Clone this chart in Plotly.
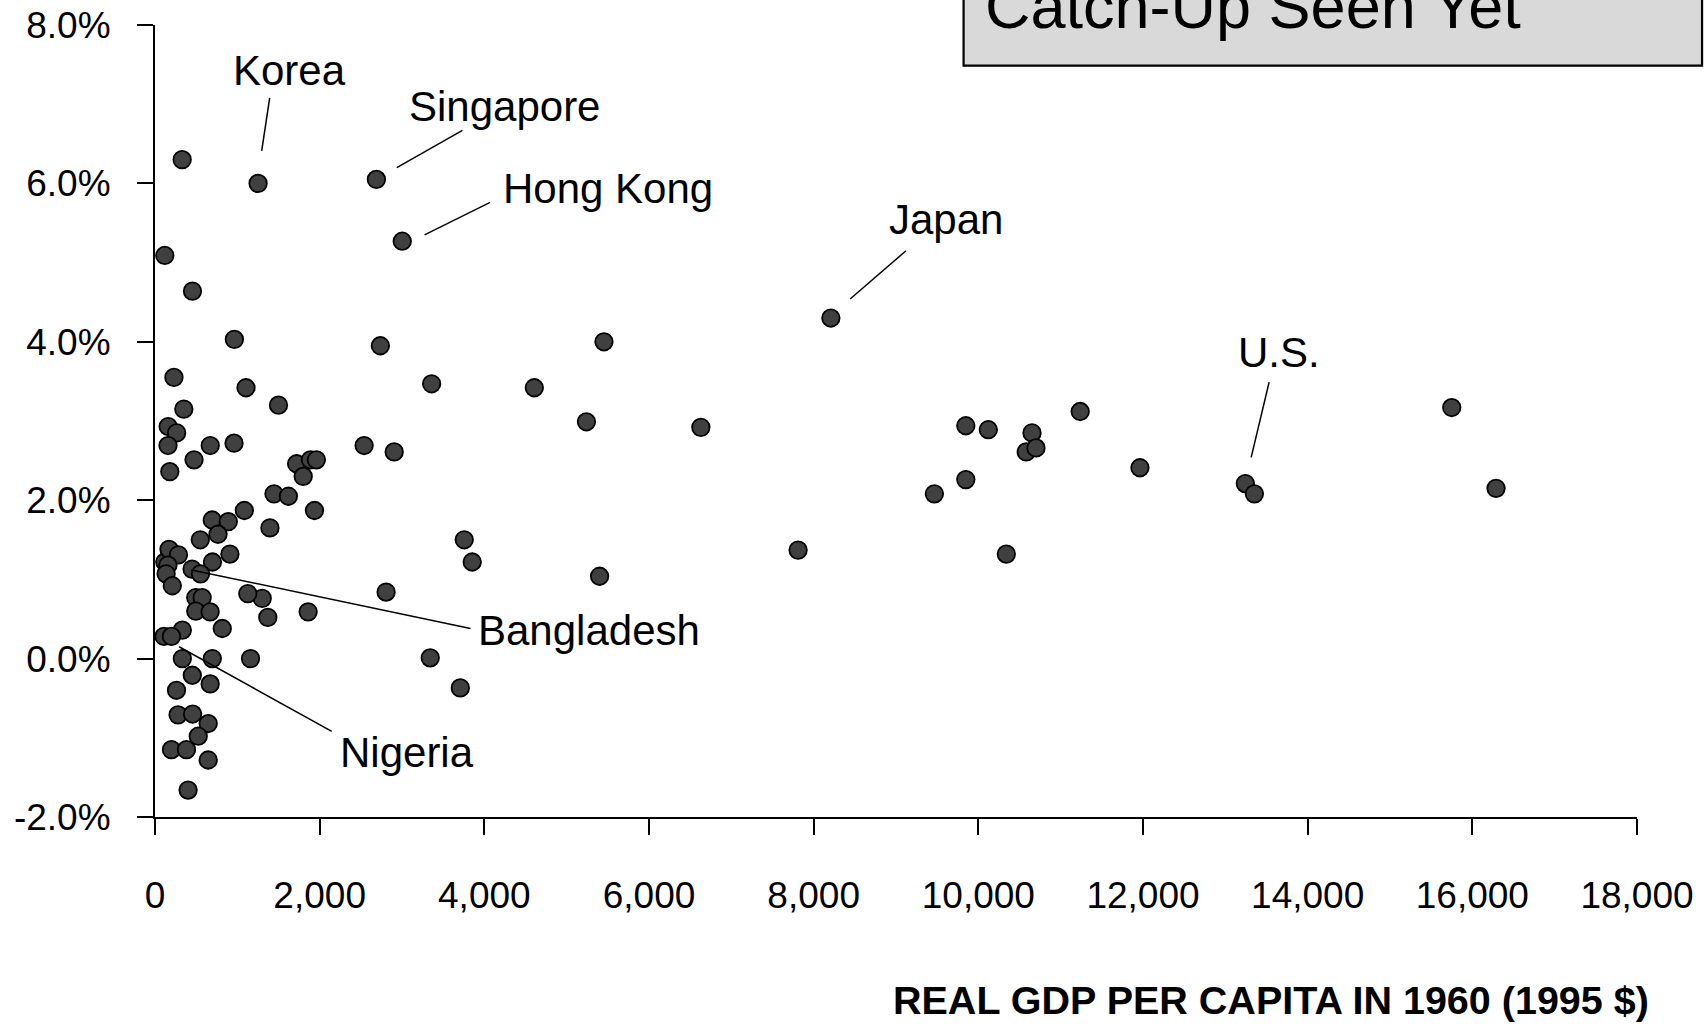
import plotly.graph_objects as go

# Real GDP per capita in 1960 (1995 dollars) and average annual growth rate (%)
gdp_1960 = [
    330, 1252, 2689, 3003, 119, 455, 964, 2737, 5453, 8209,
    230, 1105, 3360, 4607, 1500, 350, 5240, 6630, 9848, 10121,
    10652, 10582, 10700, 11237, 11963, 13243, 13353, 15750, 16288, 9848,
    9466, 10340, 7811, 5400, 3756, 3853, 2540, 2905, 2807, 3343,
    3708, 1860, 1370, 1302, 1127, 1160, 160, 263, 158, 671,
    960, 474, 180, 1720, 1888, 1960, 1800, 1445, 1620, 1937,
    1085, 1396, 695, 890, 765, 550, 910, 698, 119, 184,
    170, 285, 157, 135, 210, 450, 553, 495, 573, 495,
    670, 817, 332, 110, 200, 332, 696, 453, 670, 261,
    280, 457, 646, 525, 200, 382, 646, 402,
]
growth = [
    6.30, 6.00, 6.05, 5.27, 5.09, 4.64, 4.03, 3.95, 4.00, 4.30,
    3.55, 3.42, 3.47, 3.42, 3.20, 3.15, 2.99, 2.92, 2.94, 2.89,
    2.85, 2.61, 2.66, 3.12, 2.41, 2.21, 2.08, 3.17, 2.15, 2.26,
    2.08, 1.32, 1.37, 1.04, 1.50, 1.22, 2.69, 2.61, 0.84, 0.01,
    -0.37, 0.59, 0.52, 0.76, 0.82, 0.00, 2.93, 2.85, 2.69, 2.69,
    2.72, 2.51, 2.36, 2.46, 2.51, 2.51, 2.30, 2.08, 2.05, 1.87,
    1.87, 1.65, 1.75, 1.73, 1.57, 1.50, 1.32, 1.22, 1.22, 1.36,
    1.38, 1.31, 1.18, 1.07, 0.92, 1.13, 1.07, 0.77, 0.77, 0.60,
    0.59, 0.38, 0.36, 0.28, 0.28, 0.00, 0.00, -0.21, -0.32, -0.40,
    -0.71, -0.70, -0.82, -0.98, -1.15, -1.15, -1.28, -1.66,
]

x_ticks = [0, 2000, 4000, 6000, 8000, 10000, 12000, 14000, 16000, 18000]
x_tick_labels = ["0", "2,000", "4,000", "6,000", "8,000", "10,000",
                 "12,000", "14,000", "16,000", "18,000"]
y_ticks = [-2, 0, 2, 4, 6, 8]
y_tick_labels = ["-2.0%", "0.0%", "2.0%", "4.0%", "6.0%", "8.0%"]

x_title = "REAL GDP PER CAPITA IN 1960 (1995 $)"
box_title = "Catch-Up Seen Yet"

# Country callouts: label anchor (text middle) and leader line ends
callouts = [
    dict(text="Korea", tx=1639, ty=7.42, anchor="center", line=(1393, 7.08, 1296, 6.41)),
    dict(text="Singapore", tx=3060, ty=6.97, anchor="left", line=(3734, 6.67, 2937, 6.20)),
    dict(text="Hong Kong", tx=4200, ty=5.93, anchor="left", line=(4070, 5.76, 3274, 5.35)),
    dict(text="Japan", tx=8885, ty=5.55, anchor="left", line=(9122, 5.15, 8443, 4.54)),
    dict(text="U.S.", tx=13125, ty=3.87, anchor="left", line=(13532, 3.49, 13314, 2.54)),
    dict(text="Bangladesh", tx=3904, ty=0.36, anchor="left", line=(443, 1.12, 3832, 0.38)),
    dict(text="Nigeria", tx=2225, ty=-1.19, anchor="left", line=(293, 0.15, 2147, -0.92)),
]

label_font = "Liberation Sans, Arial, sans-serif"
tick_font = "Liberation Sans Narrow, Arial Narrow, Liberation Sans, Arial, sans-serif"

fig = go.Figure()
fig.add_trace(go.Scatter(
    x=gdp_1960, y=growth, mode="markers",
    marker=dict(symbol="circle", size=17.5, color="#404040",
                line=dict(color="#000000", width=1.8)),
    hoverinfo="skip", showlegend=False,
))

shapes = []
annotations = []
for c in callouts:
    x0, y0, x1, y1 = c["line"]
    shapes.append(dict(type="line", xref="x", yref="y", x0=x0, y0=y0, x1=x1, y1=y1,
                       line=dict(color="#000000", width=1.5)))
    annotations.append(dict(x=c["tx"], y=c["ty"], xref="x", yref="y", text=c["text"],
                            showarrow=False, xanchor=c["anchor"], yanchor="middle",
                            font=dict(family=label_font, size=42, color="#000000")))

# Title box in the upper right, running off the top edge of the page
shapes.append(dict(type="rect", xref="paper", yref="paper",
                   x0=0.5456, x1=1.0439, y0=0.9486, y1=1.08,
                   fillcolor="#d9d9d9", line=dict(color="#000000", width=2.2),
                   layer="above"))
annotations.append(dict(x=0.5587, y=1.0245, xref="paper", yref="paper", text=box_title,
                        showarrow=False, xanchor="left", yanchor="middle",
                        font=dict(family=label_font, size=63, color="#000000")))

# Horizontal axis title
annotations.append(dict(x=1.0094, y=-0.231, xref="paper", yref="paper",
                        text="<b>" + x_title + "</b>", showarrow=False,
                        xanchor="right", yanchor="middle",
                        font=dict(family=tick_font, size=39.5, color="#000000")))

fig.update_layout(
    width=1708, height=1026,
    margin=dict(l=154.5, r=71, t=25, b=208.5, autoexpand=False),
    paper_bgcolor="#ffffff", plot_bgcolor="#ffffff",
    shapes=shapes, annotations=annotations,
    xaxis=dict(range=[0, 18000], tickvals=x_ticks, ticktext=x_tick_labels,
               showgrid=False, zeroline=False, showline=True, linecolor="#000000",
               linewidth=2, ticks="outside", ticklen=16, tickwidth=1.5,
               tickcolor="#000000", ticklabelstandoff=29,
               tickfont=dict(family=tick_font, size=37, color="#000000")),
    yaxis=dict(range=[-2, 8], tickvals=y_ticks, ticktext=y_tick_labels,
               showgrid=False, zeroline=False, showline=True, linecolor="#000000",
               linewidth=2, ticks="outside", ticklen=16, tickwidth=1.5,
               tickcolor="#000000", ticklabelstandoff=19,
               tickfont=dict(family=tick_font, size=37, color="#000000")),
)

fig.write_html("out.html")
